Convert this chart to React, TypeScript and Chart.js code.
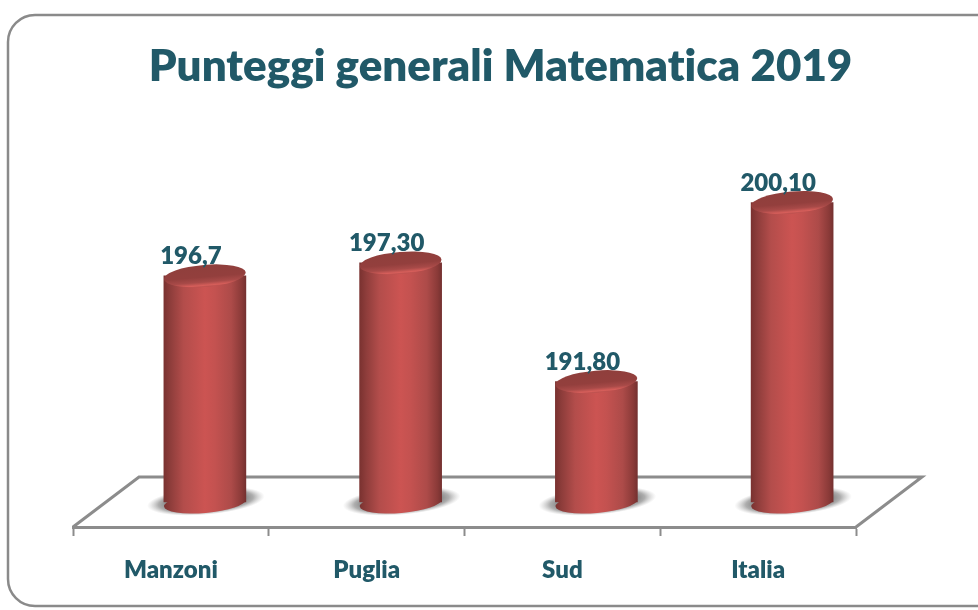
import React, { useEffect, useRef } from "react";
import { Chart, registerables } from "chart.js";

Chart.register(...registerables);

const categories = ["Manzoni", "Puglia", "Sud", "Italia"];
const scores = [196.7, 197.3, 191.8, 200.1];
const scoreLabels = ["196,7", "197,30", "191,80", "200,10"];
const chartTitle = "Punteggi generali Matematica 2019";

const TEXT = "#215968";
const AXIS = "#8c8c8c";
const BAR_W = 82;
const DEPTH_X = 66;
const DEPTH_Y = 50;
const OFF_X = 34;
const OFF_Y = -25;
const TILT = -0.085;
const Y_MIN = 186.22;

function sideGradient(ctx: CanvasRenderingContext2D, x: number) {
  const g = ctx.createLinearGradient(x - BAR_W / 2, 0, x + BAR_W / 2, 0);
  g.addColorStop(0, "#7a3230");
  g.addColorStop(0.08, "#8e3d3b");
  g.addColorStop(0.24, "#b34d4b");
  g.addColorStop(0.5, "#cc5452");
  g.addColorStop(0.62, "#c45250");
  g.addColorStop(0.82, "#ad4b49");
  g.addColorStop(0.95, "#8a3a38");
  g.addColorStop(1, "#753130");
  return g;
}

const cylinderPlugin = {
  id: "cylinder",
  beforeDraw(chart: any) {
    const { ctx } = chart;
    (ctx as any).letterSpacing = "0.01px";
    ctx.save();
    ctx.fillStyle = "#ffffff";
    ctx.fillRect(0, 0, chart.width, chart.height);
    ctx.beginPath();
    ctx.roundRect(8, 15, 1010, 591, 27);
    ctx.strokeStyle = "#8a8a8a";
    ctx.lineWidth = 2.5;
    ctx.stroke();
    ctx.restore();
  },
  afterLayout(chart: any) {
    // the title sits centred on the frame, not on the plot
    if (chart.titleBlock) {
      chart.titleBlock.left += 36;
      chart.titleBlock.right += 36;
    }
  },
  beforeDatasetsDraw(chart: any) {
    const { ctx, chartArea: a } = chart;
    const meta = chart.getDatasetMeta(0);
    ctx.save();
    // floor back and side edges
    ctx.strokeStyle = AXIS;
    ctx.lineWidth = 3;
    ctx.lineJoin = "miter";
    ctx.beginPath();
    ctx.moveTo(a.left, a.bottom);
    ctx.lineTo(a.left + DEPTH_X, a.bottom - DEPTH_Y);
    ctx.lineTo(a.right + DEPTH_X, a.bottom - DEPTH_Y);
    ctx.lineTo(a.right, a.bottom);
    ctx.stroke();
    // soft shadows at each foot
    meta.data.forEach((el: any) => {
      const cx = el.x + OFF_X + 1;
      const cy = a.bottom + OFF_Y - 1;
      ctx.save();
      ctx.translate(cx, cy);
      ctx.rotate(TILT);
      ctx.scale(1, 0.235);
      const r = ctx.createRadialGradient(0, 0, 36, 0, 0, 59);
      r.addColorStop(0, "rgba(95,95,95,0.85)");
      r.addColorStop(0.5, "rgba(120,120,120,0.6)");
      r.addColorStop(1, "rgba(170,170,170,0)");
      ctx.fillStyle = r;
      ctx.beginPath();
      ctx.arc(0, 0, 59, 0, Math.PI * 2);
      ctx.fill();
      ctx.restore();
    });
    // cylinder feet
    meta.data.forEach((el: any) => {
      const cx = el.x + OFF_X;
      const cy = a.bottom + OFF_Y + 1;
      ctx.fillStyle = sideGradient(ctx, cx);
      ctx.beginPath();
      ctx.ellipse(cx, cy, BAR_W / 2, 10, TILT, 0, Math.PI * 2);
      ctx.fill();
    });
    ctx.restore();
    ctx.save();
    ctx.translate(OFF_X, OFF_Y);
  },
  afterDatasetsDraw(chart: any) {
    const { ctx } = chart;
    ctx.restore();
    const meta = chart.getDatasetMeta(0);
    ctx.save();
    meta.data.forEach((el: any, i: number) => {
      const cx = el.x + OFF_X;
      const cy = el.y + OFF_Y;
      // top cap
      ctx.save();
      ctx.translate(cx, cy);
      ctx.rotate(TILT);
      const cap = ctx.createLinearGradient(0, -11, 0, 11);
      cap.addColorStop(0, "#8f3f3c");
      cap.addColorStop(0.55, "#933f3d");
      cap.addColorStop(0.78, "#a84a48");
      cap.addColorStop(0.93, "#d65e5a");
      cap.addColorStop(1, "#b84f4d");
      ctx.fillStyle = cap;
      ctx.beginPath();
      ctx.ellipse(0, 0, BAR_W / 2, 11, 0, 0, Math.PI * 2);
      ctx.fill();
      ctx.restore();
      // value label
      ctx.fillStyle = TEXT;
      ctx.font = "800 24px Lato";
      ctx.textAlign = "center";
      ctx.textBaseline = "middle";
      ctx.fillText(scoreLabels[i], cx - 14, cy - 19.5);
    });
    ctx.restore();
  },
};

export default function App() {
  const ref = useRef<HTMLCanvasElement>(null);
  useEffect(() => {
    const ctx = ref.current!.getContext("2d")!;
    const chart = new Chart(ctx, {
      type: "bar",
      data: {
        labels: categories,
        datasets: [
          {
            data: scores,
            base: Y_MIN,
            barThickness: BAR_W,
            clip: false,
            borderWidth: 0,
            backgroundColor: (c: any) => {
              const x = c.chart.scales?.x?.getPixelForValue(c.dataIndex);
              return x === undefined || Number.isNaN(x) ? "#cc5452" : sideGradient(c.chart.ctx, x);
            },
          } as any,
        ],
      },
      options: {
        responsive: false,
        animation: false,
        events: [],
        layout: { padding: { left: 73, right: 122, top: 0, bottom: 0 } },
        plugins: {
          legend: { display: false },
          tooltip: { enabled: false },
          title: {
            display: true,
            text: chartTitle,
            color: TEXT,
            font: { family: "Lato", weight: "800", size: 43.9 },
            padding: { top: 41, bottom: 92.8 },
          },
        },
        scales: {
          y: { display: false, min: Y_MIN, max: 202 },
          x: {
            afterFit: (s: any) => {
              s.height = 83;
            },
            border: { color: AXIS, width: 3 },
            grid: {
              drawOnChartArea: false,
              drawTicks: true,
              tickLength: 9,
              tickWidth: 2,
              tickColor: AXIS,
            },
            ticks: {
              color: TEXT,
              padding: 20,
              maxRotation: 0,
              font: { family: "Lato", weight: "800", size: 24 },
            },
          },
        },
      },
      plugins: [cylinderPlugin],
    } as any);
    return () => chart.destroy();
  }, []);
  return (
    <div style={{ position: "fixed", left: 0, top: 0, width: 978, height: 610, background: "#fff" }}>
      <canvas ref={ref} width={978} height={610} style={{ display: "block" }} />
    </div>
  );
}
